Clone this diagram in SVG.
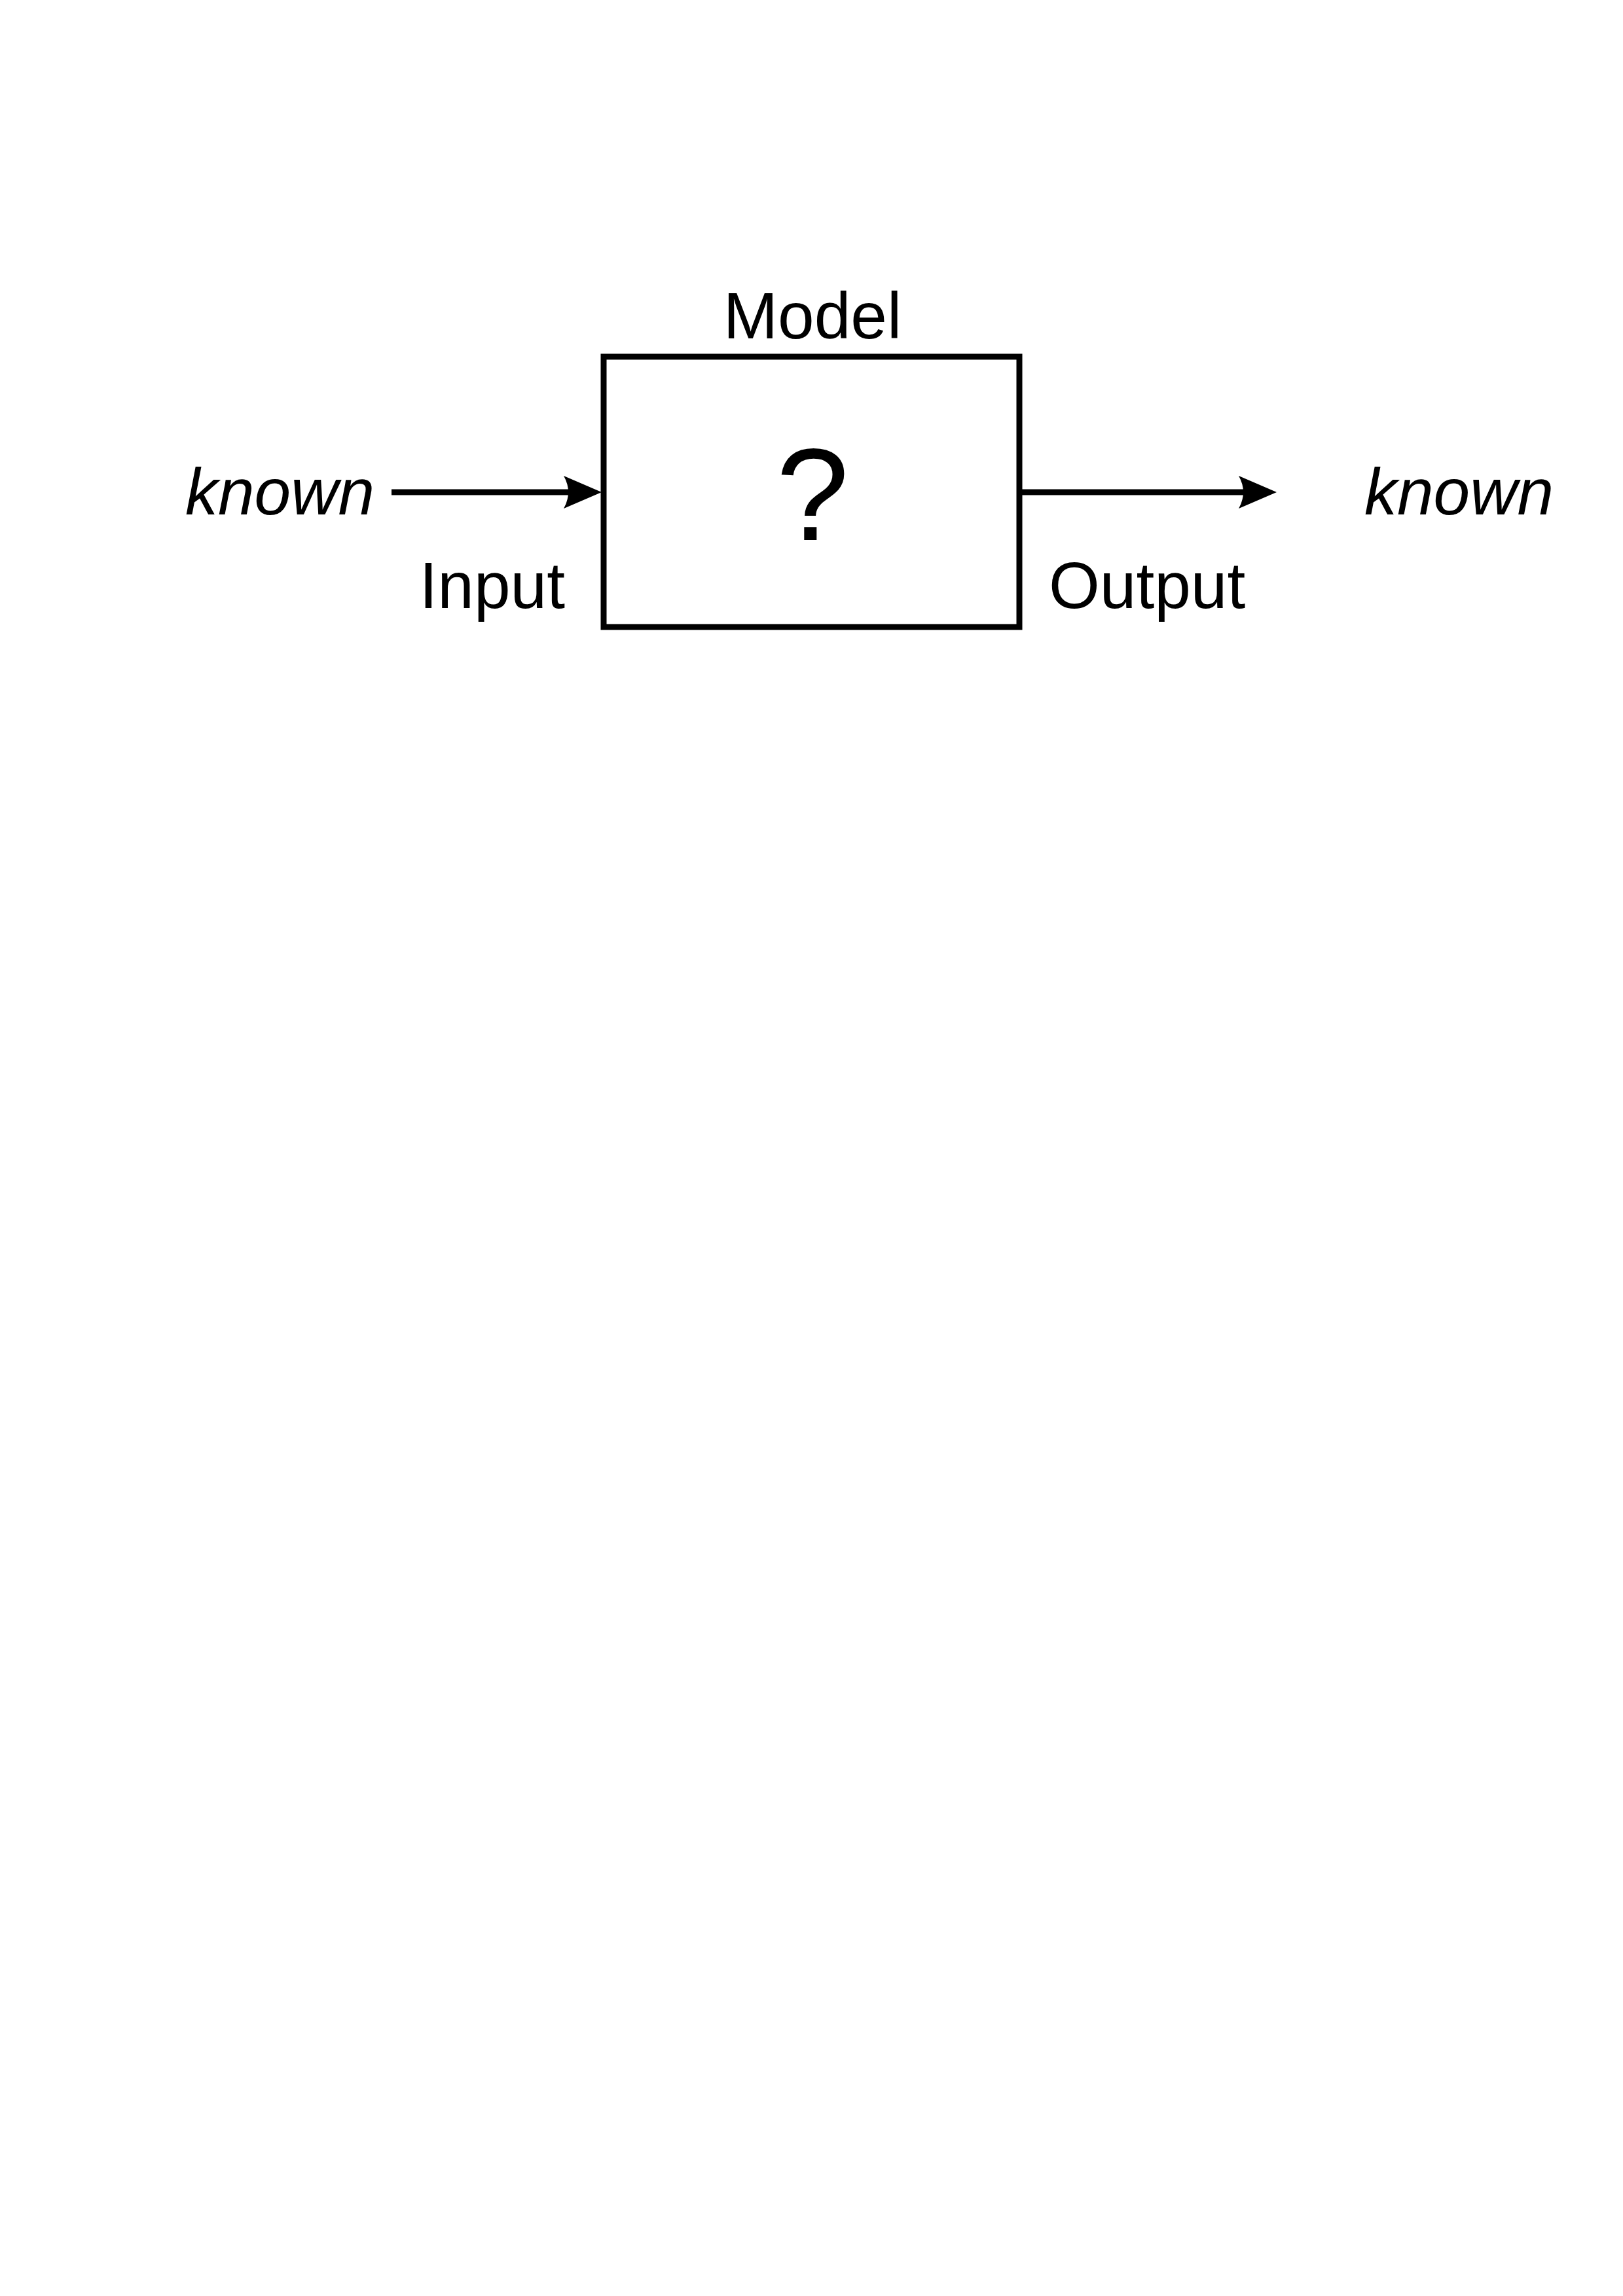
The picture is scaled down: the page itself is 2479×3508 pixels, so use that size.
<svg xmlns="http://www.w3.org/2000/svg" width="2479" height="3508" viewBox="0 0 2479 3508">
<style>
.t{font-family:"Liberation Sans",Arial,sans-serif;font-size:100px;fill:#000}
.i{font-style:italic}
.box{fill:none;stroke:#000;stroke-width:9}
.conn{stroke:#000;stroke-width:9;fill:none}
</style>
<defs>
<marker id="ah" markerUnits="userSpaceOnUse" markerWidth="60" markerHeight="52" viewBox="0 0 60 52" refX="10" refY="26" orient="auto">
<path d="M0,1 L58,26 L0,51 Q14,26 0,1 Z" fill="#000"/>
</marker>
</defs>
<rect width="2479" height="3508" fill="#fff"/>
<g id="model">
<rect class="box" x="922" y="545" width="635" height="413"/>
<text class="t" x="1241" y="517" text-anchor="middle">Model</text>
<text class="t" x="1241" y="825" text-anchor="middle" font-size="200" style="font-size:200px">?</text>
</g>
<g id="input">
<text class="t i" x="283" y="786">known</text>
<text class="t" x="863" y="929" text-anchor="end">Input</text>
</g>
<g id="output">
<text class="t" x="1602" y="929">Output</text>
<text class="t i" x="2084" y="786">known</text>
</g>
<g id="connectors">
<line class="conn" x1="598" y1="752" x2="871" y2="752" marker-end="url(#ah)"/>
<line class="conn" x1="1561" y1="752" x2="1902" y2="752" marker-end="url(#ah)"/>
</g>
</svg>
